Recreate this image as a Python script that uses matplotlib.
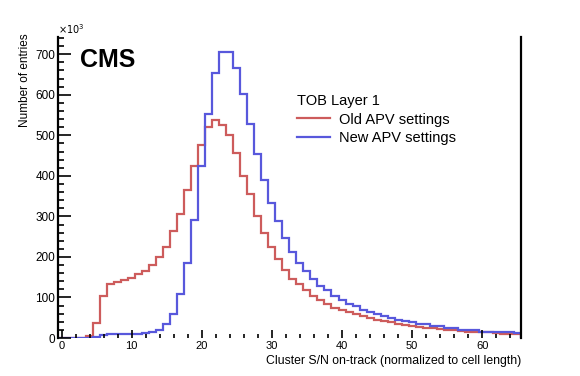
import numpy as np
import matplotlib
matplotlib.use("Agg")
import matplotlib.pyplot as plt
from matplotlib.ticker import MultipleLocator

plt.rcParams['font.family'] = ['Liberation Sans', 'DejaVu Sans']

# bin edges: 66 bins of width 1, centred on 0..65
bin_edges = np.arange(-0.5, 66.5, 1.0)

# entries per bin (x10^3)
old_apv = [0, 0, 0, 1, 5, 36, 103, 134, 138, 142, 147, 157, 165, 180, 200, 225,
           263, 305, 365, 424, 476, 521, 538, 525, 500, 457, 400, 356, 301, 260,
           225, 195, 168, 146, 133, 118, 104, 93, 83, 73, 68, 63, 59, 54, 49, 44,
           41, 39, 34, 31, 29, 27, 24, 24, 22, 19, 19, 17, 14, 14, 14, 14, 12,
           9, 9, 9]
new_apv = [0, 0, 0, 0, 1, 2, 8, 10, 10, 10, 10, 10, 12, 15, 20, 34,
           60, 109, 185, 292, 425, 552, 653, 706, 706, 667, 603, 527, 455, 391,
           333, 289, 247, 212, 185, 165, 146, 129, 118, 103, 93, 83, 78, 68, 63,
           59, 54, 49, 44, 41, 39, 34, 34, 29, 29, 24, 24, 21, 19, 19, 16, 16,
           14, 14, 14, 12]

legend_title = "TOB Layer 1"
labels = ["Old APV settings", "New APV settings"]
colors = ["#cd5c5c", "#5858dc"]

fig = plt.figure(figsize=(5.8, 3.76), dpi=100)
ax = fig.add_axes([0.1, 0.101, 0.798, 0.8])

ax.stairs(old_apv, bin_edges, color=colors[0], lw=1.6, label=labels[0])
ax.stairs(new_apv, bin_edges, color=colors[1], lw=1.6, label=labels[1])

ax.set_xlim(-0.5, 65.5)
ax.set_ylim(0, 742)

# ROOT-like frame: thick left/right, no top/bottom line
ax.spines['top'].set_visible(False)
ax.spines['bottom'].set_visible(False)
ax.spines['left'].set_linewidth(1.6)
ax.spines['right'].set_linewidth(1.6)

ax.xaxis.set_major_locator(MultipleLocator(10))
ax.xaxis.set_minor_locator(MultipleLocator(2))
ax.yaxis.set_major_locator(MultipleLocator(100))
ax.yaxis.set_minor_locator(MultipleLocator(20))
ax.tick_params(axis='x', which='both', direction='in', labelsize=8, pad=2, width=1.2)
ax.tick_params(axis='x', which='major', length=6)
ax.tick_params(axis='x', which='minor', length=3)
ax.tick_params(axis='y', which='both', direction='in', labelsize=8.5, pad=2, width=1.2)
ax.tick_params(axis='y', which='major', length=9)
ax.tick_params(axis='y', which='minor', length=4.5)

ax.set_xlabel("Cluster S/N on-track (normalized to cell length)", fontsize=8.8, loc='right')
ax.xaxis.set_label_coords(1.0, -0.055)
ax.set_ylabel("Number of entries", fontsize=8.5, loc='top')
ax.yaxis.set_label_coords(-0.058, 1.013)

ax.text(0.0, 1.005, r"$\times10^{3}$", transform=ax.transAxes, fontsize=7,
        ha='left', va='bottom')
ax.text(0.0475, 0.90, "CMS", transform=ax.transAxes, fontsize=18,
        fontweight='bold', ha='left', va='baseline')

leg = ax.legend(title=legend_title, loc='upper left', bbox_to_anchor=(0.503, 0.83),
                frameon=False, fontsize=10.5, title_fontsize=10.5,
                handlelength=2.3, handletextpad=0.6, labelspacing=0.3,
                borderaxespad=0)
leg._legend_box.align = "left"

fig.savefig("out.png", dpi=100)
